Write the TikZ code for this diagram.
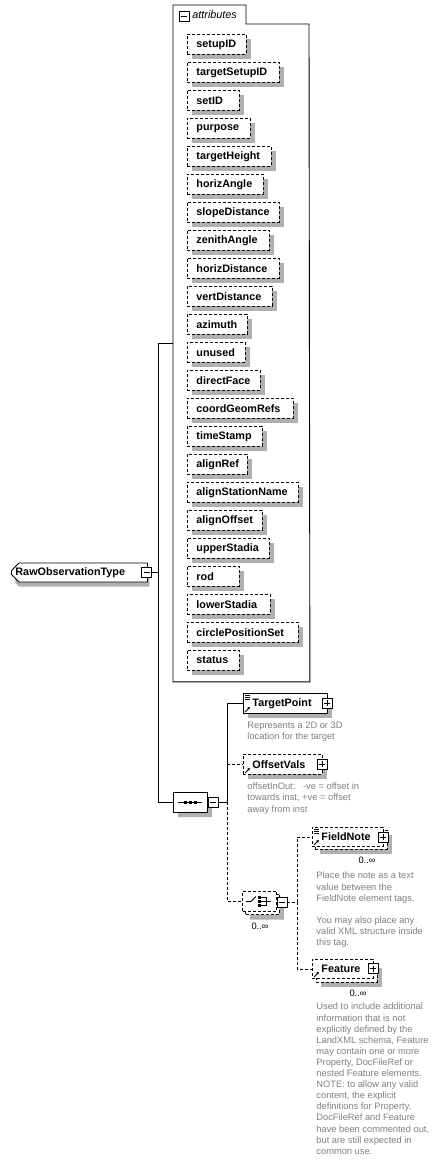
\documentclass[tikz,border=0pt]{standalone}
\usepackage{fontspec}
\setmainfont{Liberation Sans}
\usetikzlibrary{shapes.misc,arrows.meta}
\definecolor{descgray}{RGB}{128,128,128}
\definecolor{shadowgray}{RGB}{176,176,176}
\newcommand\labelfont{\fontsize{10.8}{13}\selectfont\bfseries}
\newcommand\descfont{\fontsize{9.3}{11.1}\selectfont}
% little icons in the element boxes
\newcommand\doclines[1]{\foreach \k in {0,2,4}{\draw[line width=0.6pt] ([shift={(2,{2+\k})}]#1.north west) -- ++(5,0);}}
\newcommand\refarrow[1]{\draw[line width=0.9pt,-{Stealth[length=3pt,width=3pt]}] ([shift={(2,-2)}]#1.south west) -- ++(5,-5);}
\tikzset{
  dashline/.style={dash pattern=on 3pt off 2pt},
  elem/.style={draw,fill=white,anchor=north west,minimum height=20pt,
    inner xsep=9pt,inner ysep=0pt,align=left,font=\labelfont},
  attr/.style={elem,dashline},
  backcopy/.style={draw,dashline,fill=white,anchor=north west,inner sep=0pt},
  compositor/.style={chamfered rectangle,chamfered rectangle xsep=6pt,draw,fill=white,
    minimum width=34pt,minimum height=20pt,inner sep=0pt},
  roottype/.style={chamfered rectangle,chamfered rectangle corners={north west,south west},
    chamfered rectangle xsep=4pt,draw,fill=white,minimum width=134pt,minimum height=19pt,
    inner sep=0pt,text width=128pt,align=left,font=\labelfont},
  shadowcopy/.style={draw=none,fill=shadowgray},
  minusbox/.style={draw,fill=white,minimum size=10pt,inner sep=0pt,
    path picture={\draw[line width=0.8pt] ([xshift=2pt]path picture bounding box.west) -- ([xshift=-2pt]path picture bounding box.east);}},
  plusbox/.style={draw,fill=white,minimum size=10pt,inner sep=0pt,
    path picture={\draw[line width=0.8pt] ([xshift=2pt]path picture bounding box.west) -- ([xshift=-2pt]path picture bounding box.east)
      ([yshift=-2pt]path picture bounding box.north) -- ([yshift=2pt]path picture bounding box.south);}},
  descr/.style={anchor=north west,inner sep=0pt,align=left,text=descgray,font=\descfont},
  mult/.style={inner sep=0pt,font=\descfont}
}
\begin{document}
\begin{tikzpicture}[x=1pt,y=-1pt,line width=0.9pt]
\useasboundingbox[fill=white] (0,0) rectangle (446,1162);

% root type
\node[roottype,shadowcopy,anchor=west] (rootshadow) at (15,577) {};
\node[roottype,anchor=west] (root) at (11,572.5) {RawObservationType};
\node[minusbox] (rootpm) at (146.5,572.5) {};
\coordinate (rootfork) at (158,572.5);

% attribute group
\node[minimum width=136pt,minimum height=676pt,inner sep=0pt,anchor=north west] (attrs) at (173,5) {};
\draw[fill=white] (attrs.south west) -- (attrs.north west) -- (246,5) -- (246,24) -- (309,24) -- (attrs.south east) -- cycle;
\node[minusbox] (attrpm) at (184,16) {};
\node[anchor=west,inner sep=0pt,font=\fontsize{10.8}{13}\selectfont\itshape] (attrlabel) at (192,15) {attributes};
\foreach \aname/\awidth [count=\i from 0] in {setupID/59,targetSetupID/92,setID/52,purpose/63,
  targetHeight/84,horizAngle/76,slopeDistance/92,zenithAngle/82,horizDistance/92,vertDistance/85,
  azimuth/60,unused/58,directFace/73,coordGeomRefs/106,timeStamp/75,alignRef/60,
  alignStationName/111,alignOffset/75,upperStadia/82,rod/52,lowerStadia/83,
  circlePositionSet/111,status/52}{
  \pgfmathsetmacro{\tw}{\awidth-18}
  \node[attr,shadowcopy,text width=\tw pt] (s\i) at (192,{39+28*\i}) {};
  \node[attr,text width=\tw pt] (a\i) at (187,{34+28*\i}) {\aname};
}

% sequence
\node[compositor,shadowcopy] (seqshadow) at (195,807) {};
\node[compositor] (seq) at (190,802) {};
\draw ([xshift=5pt]seq.west) -- ([xshift=-5pt]seq.east);
\foreach \dx in {-5,0,5}{\fill ([xshift=\dx pt]seq.center) ++(-1.5,-1.5) rectangle ++(3,3);}
\node[minusbox] (seqpm) at (213,802) {};
\coordinate (seqfork) at (227,802);

% TargetPoint
\node[elem,shadowcopy,text width=66pt] (tpshadow) at (248,698) {};
\node[elem,text width=66pt] (tpoint) at (243,693) {TargetPoint};
\doclines{tpoint}
\refarrow{tpoint}
\node[plusbox] (tppm) at (327,703) {};
\node[descr] (tpdesc) at (247,721.8) {Represents a 2D or 3D\\location for the target};

% OffsetVals
\node[elem,shadowcopy,text width=61pt] (ovshadow) at (248,759) {};
\node[elem,dashline,text width=61pt] (offvals) at (243,754) {OffsetVals};
\refarrow{offvals}
\node[plusbox] (ovpm) at (322,764) {};
\node[descr] (ovdesc) at (247,782.7) {offsetInOut:\ \ \ -ve = offset in\\towards inst, +ve = offset\\away from inst};

% choice
\node[compositor,shadowcopy] (choiceshadow) at (267,909.5) {};
\node[compositor,dashline] (choiceback) at (262,904.5) {};
\node[compositor,dashline] (choice) at (259,901.5) {};
\draw[line width=0.8pt] ([xshift=-13pt]choice.center) -- ([xshift=-8pt]choice.center) -- ([shift={(-3,-5)}]choice.center);
\foreach \dy in {-4,0,4}{\fill ([shift={(0,\dy)}]choice.center) ++(-1,-1.2) rectangle ++(2.6,2.4);}
\draw[line width=0.8pt] ([shift={(2,-4)}]choice.center) -- ++(5,0) -- ++(0,8) -- ++(-5,0);
\draw[line width=0.8pt] ([shift={(2,0)}]choice.center) -- ++(10,0);
\node[minusbox] (choicepm) at (282,902) {};
\coordinate (choicefork) at (297,902);
\node[mult] (chmult) at (260,926) {0..∞};

% FieldNote
\node[backcopy,shadowcopy,minimum width=72pt,minimum height=19pt] (fnshadow) at (320,835) {};
\node[backcopy,minimum width=72pt,minimum height=19pt] (fnoteback) at (315,830) {};
\node[elem,dashline,minimum height=19pt,text width=53pt] (fnote) at (312,827) {FieldNote};
\doclines{fnote}
\refarrow{fnote}
\node[plusbox] (fnpm) at (383,837) {};
\node[mult] (fnmult) at (367,860) {0..∞};
\node[descr] (fndesc) at (316,871.7) {Place the note as a text\\value between the\\FieldNote element tags.\\[11.1pt]You may also place any\\valid XML structure inside\\this tag.};

% Feature
\node[backcopy,shadowcopy,minimum width=61pt,minimum height=19pt] (ftshadow) at (321,968) {};
\node[backcopy,minimum width=61pt,minimum height=19pt] (featureback) at (316,963) {};
\node[elem,dashline,minimum height=19pt,text width=43pt] (feature) at (312,959) {Feature};
\refarrow{feature}
\node[plusbox] (ftpm) at (373,968.5) {};
\node[mult] (ftmult) at (358,993) {0..∞};
\node[descr] (ftdesc) at (316,1002.7) {Used to include additional\\information that is not\\explicitly defined by the\\LandXML schema, Feature\\may contain one or more\\Property, DocFileRef or\\nested Feature elements.\\NOTE: to allow any valid\\content, the explicit\\definitions for Property,\\DocFileRef and Feature\\have been commented out,\\but are still expected in\\common use.};

% connectors
\draw (rootpm.east) -- (rootfork);
\draw (rootfork) |- (attrs.west);
\draw (rootfork) |- (seq.west);
\draw (seqpm.east) -- (seqfork);
\draw (seqfork) |- (tpoint.west);
\draw[dashline] (seqfork |- offvals.west) -- (offvals.west);
\draw[dashline] (seqfork) |- (choice.west);
\draw[dashline] (choicepm.east) -- (choicefork);
\draw[dashline] (choicefork) |- (fnote.west);
\draw[dashline] (choicefork) |- (feature.west);
\end{tikzpicture}
\end{document}
